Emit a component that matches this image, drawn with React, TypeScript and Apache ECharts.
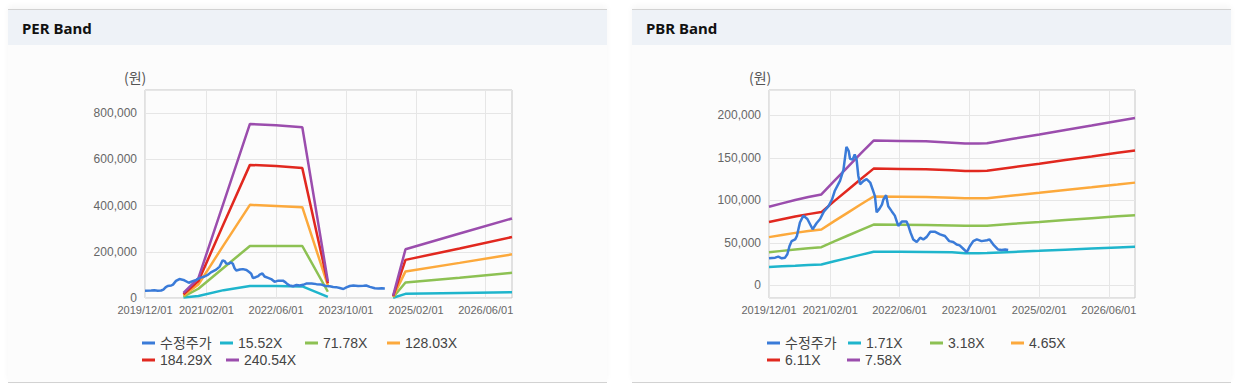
import React, { useEffect, useRef } from "react";
import * as echarts from "echarts";

// ---------- data ----------
const axisStart = "2019-12-01";
const axisEnd = "2026-12-01";
const xTickLabels = ["2019-12-01", "2021-02-01", "2022-06-01", "2023-10-01", "2025-02-01", "2026-06-01"];

const priceName = "수정주가";
const priceDates = [
  "2019-12-01", "2020-01-13", "2020-02-04", "2020-02-28", "2020-03-22", "2020-04-07", "2020-04-22", "2020-05-07",
  "2020-06-01", "2020-06-13", "2020-07-04", "2020-07-28", "2020-08-25", "2020-10-01", "2020-10-28", "2020-11-22",
  "2020-12-19", "2021-01-19", "2021-02-13", "2021-03-04", "2021-04-10", "2021-05-04", "2021-05-25", "2021-06-10",
  "2021-06-19", "2021-07-07", "2021-07-22", "2021-08-04", "2021-08-16", "2021-08-28", "2021-09-22", "2021-10-13",
  "2021-11-07", "2021-11-28", "2021-12-10", "2021-12-22", "2022-01-10", "2022-01-28", "2022-02-07", "2022-02-26",
  "2022-03-13", "2022-04-07", "2022-04-28", "2022-05-22", "2022-06-16", "2022-07-19", "2022-08-01", "2022-08-16",
  "2022-09-04", "2022-09-28", "2022-10-22", "2022-11-13", "2022-12-07", "2023-01-01", "2023-02-04", "2023-03-10",
  "2023-04-13", "2023-05-13", "2023-06-10", "2023-07-04", "2023-07-25", "2023-08-19", "2023-09-13", "2023-10-04",
  "2023-10-28", "2023-11-22", "2023-12-25", "2024-02-01", "2024-02-19", "2024-03-16", "2024-04-19", "2024-05-13",
  "2024-06-07", "2024-06-28",
];
const priceValues = [
  31800, 32500, 33700, 31800, 32500, 36500, 46000, 52000,
  54000, 58000, 74000, 82000, 78000, 66000, 73000, 78000,
  87000, 93000, 101000, 111000, 123000, 136000, 163000, 158000,
  149000, 148000, 154000, 148000, 129000, 119000, 123000, 125000,
  121000, 111000, 105000, 86000, 90000, 95000, 101000, 106000,
  93000, 87000, 82000, 70000, 75000, 75000, 70000, 62000,
  54000, 51000, 56000, 54000, 57000, 63000, 63000, 60000,
  58000, 52000, 51000, 48000, 47000, 43000, 39000, 46000,
  52000, 54000, 52000, 53000, 54000, 48000, 42000, 41500,
  42000, 41500,
];

// PER band
const perNames = ["15.52X", "71.78X", "128.03X", "184.29X", "240.54X"];
const perDates = [
  "2020-08-25", "2020-12-07", "2021-06-01", "2021-12-01", "2022-06-01", "2022-12-01",
  "2023-05-28", "2024-01-01", "2024-08-25", "2024-11-19", "2025-12-01", "2026-12-01",
];
const per1552 = [2000, 9000, 34000, 52000, 52000, 50000, 5000, null, 1000, 18000, 22000, 25000];
const per7178 = [6000, 40000, 131000, 225000, 225000, 225000, 27000, null, 3000, 67000, 88000, 109000];
const per12803 = [11000, 58000, 229000, 403000, 398000, 393000, 55000, null, 6000, 115000, 152000, 189000];
const per18429 = [16000, 73000, 321000, 576000, 571000, 562000, 64000, null, 8000, 165000, 214000, 264000];
const per24054 = [22000, 86000, 413000, 753000, 748000, 739000, 72000, null, 10000, 211000, 279000, 344000];
const perYTicks = [0, 200000, 400000, 600000, 800000];

// PBR band
const pbrNames = ["1.71X", "3.18X", "4.65X", "6.11X", "7.58X"];
const pbrDates = [
  "2019-12-01", "2020-03-01", "2020-06-01", "2020-09-01", "2020-12-01", "2021-03-01", "2021-06-01",
  "2021-09-01", "2021-12-01", "2022-06-01", "2022-12-01", "2023-06-01", "2023-09-01", "2023-12-01",
  "2024-02-01", "2024-08-01", "2025-02-01", "2025-08-01", "2026-02-01", "2026-08-01", "2026-12-01",
];
const pbr171 = [21500, 22300, 23000, 23800, 24500, 28200, 32000, 35800, 39500, 39400, 39200, 38800, 37800, 37800, 38000, 39300, 40600, 41900, 43200, 44500, 45300];
const pbr318 = [38800, 40500, 42200, 43600, 44900, 51600, 58300, 65000, 71500, 71300, 71100, 70500, 70100, 70100, 70200, 72400, 74500, 76800, 79000, 81200, 82600];
const pbr465 = [56700, 59200, 61700, 63800, 65600, 75500, 85300, 95100, 104600, 104300, 104000, 103100, 102500, 102500, 102600, 105800, 109000, 112300, 115500, 118700, 120900];
const pbr611 = [74600, 77800, 81000, 83800, 86200, 99100, 112000, 124900, 137400, 137000, 136600, 135400, 134600, 134600, 134800, 139000, 143200, 147500, 151700, 156000, 158800];
const pbr758 = [92500, 96500, 100500, 104000, 107000, 123000, 139000, 155000, 170500, 170000, 169500, 168000, 167000, 167000, 167300, 172500, 177700, 183000, 188200, 193500, 197000];

const bandColors = ["#1fb5cc", "#8dc153", "#fca93c", "#e1281f", "#9b4dad"];
const priceColor = "#3a7bd8";

// ---------- helpers ----------
const ts = (s: string) => {
  const [y, m, d] = s.split("-").map(Number);
  return new Date(y, m - 1, d).getTime();
};
const fmtDate = (v: number) => {
  const d = new Date(v);
  const mm = String(d.getMonth() + 1).padStart(2, "0");
  const dd = String(d.getDate()).padStart(2, "0");
  return `${d.getFullYear()}/${mm}/${dd}`;
};
const pairs = (dates: string[], vals: (number | null)[]) => dates.map((d, i) => [ts(d), vals[i]]);

const FONT = "'Liberation Sans', Arial, 'Noto Sans CJK KR', sans-serif";

export default function App() {
  const ref = useRef<HTMLDivElement>(null);

  useEffect(() => {
    if (!ref.current) return;
    const chart = echarts.init(ref.current, undefined, { renderer: "svg" });
    const tickTs = xTickLabels.map(ts);

    // linear date axis (values are timestamps)
    const xAxis = (gridIndex: number) => ({
      type: "value",
      gridIndex,
      min: ts(axisStart),
      max: ts(axisEnd),
      axisLine: { show: false },
      axisTick: { show: false, customValues: tickTs },
      axisLabel: {
        customValues: tickTs,
        formatter: (v: number) => fmtDate(v),
        color: "#666",
        fontSize: 11,
        lineHeight: 11,
        fontFamily: FONT,
        margin: 6,
        showMinLabel: true,
        showMaxLabel: true,
        hideOverlap: false,
      },
      splitLine: { show: true, lineStyle: { color: "#e6e6e6", width: 1 } },
    });

    const lineSeries = (name: string, data: any[], color: string, idx: number, z = 2) => ({
      name,
      type: "line",
      xAxisIndex: idx,
      yAxisIndex: idx,
      data,
      symbol: "none",
      showSymbol: false,
      connectNulls: false,
      color,
      z,
      lineStyle: { width: 2.5, color },
    });

    const perBands = [per1552, per7178, per12803, per18429, per24054];
    const pbrBands = [pbr171, pbr318, pbr465, pbr611, pbr758];
    const priceData = pairs(priceDates, priceValues);

    const series: any[] = [];
    perBands.forEach((vals, i) => series.push(lineSeries(perNames[i], pairs(perDates, vals), bandColors[i], 0)));
    series.push(lineSeries(priceName, priceData, priceColor, 0, 3));
    pbrBands.forEach((vals, i) => series.push(lineSeries(pbrNames[i], pairs(pbrDates, vals), bandColors[i], 1)));
    series.push(lineSeries(priceName, priceData, priceColor, 1, 3));

    const legendItem = (name: string, left: number, top: number) => ({
      data: [name],
      left,
      top,
      icon: "rect",
      itemWidth: 13,
      itemHeight: 3,
      itemGap: 0,
      padding: 0,
      selectedMode: false,
      textStyle: { fontSize: 14, color: "#444", fontFamily: FONT },
    });

    const r1 = 336;
    const r2 = 353;
    const legends = [
      legendItem(priceName, 142, r1),
      legendItem(perNames[0], 220, r1),
      legendItem(perNames[1], 305, r1),
      legendItem(perNames[2], 387, r1),
      legendItem(perNames[3], 142, r2),
      legendItem(perNames[4], 226, r2),
      legendItem(priceName, 767, r1),
      legendItem(pbrNames[0], 848, r1),
      legendItem(pbrNames[1], 930, r1),
      legendItem(pbrNames[2], 1011, r1),
      legendItem(pbrNames[3], 767, r2),
      legendItem(pbrNames[4], 847, r2),
    ];

    const yLabel = {
      color: "#666",
      fontSize: 12,
      lineHeight: 12,
      fontFamily: FONT,
      margin: 8,
      formatter: (v: number) => v.toLocaleString("en-US"),
    };

    chart.setOption({
      animation: false,
      title: [
        { text: "PER Band", left: 22, top: 20, padding: 0, textStyle: { fontSize: 15, fontWeight: "bold", color: "#111", fontFamily: "'Noto Sans', sans-serif" } },
        { text: "PBR Band", left: 646, top: 20, padding: 0, textStyle: { fontSize: 15, fontWeight: "bold", color: "#111", fontFamily: "'Noto Sans', sans-serif" } },
      ],
      legend: legends,
      grid: [
        { left: 145, top: 90, width: 367, height: 208, show: true, borderColor: "#c6c6c6", borderWidth: 1, containLabel: false },
        { left: 769, top: 90, width: 366, height: 208, show: true, borderColor: "#c6c6c6", borderWidth: 1, containLabel: false },
      ],
      xAxis: [xAxis(0), xAxis(1)],
      yAxis: [
        {
          type: "value",
          gridIndex: 0,
          min: perYTicks[0],
          max: 900000,
          interval: perYTicks[1] - perYTicks[0],
          axisLine: { show: false },
          axisTick: { show: false },
          axisLabel: { ...yLabel, showMaxLabel: false },
          splitLine: { show: true, lineStyle: { color: "#e6e6e6" } },
        },
        {
          type: "value",
          gridIndex: 1,
          min: -15000,
          max: 230000,
          splitNumber: 5,
          axisLine: { show: false },
          axisTick: { show: false },
          axisLabel: { ...yLabel, showMaxLabel: false, showMinLabel: false },
          splitLine: { show: true, lineStyle: { color: "#e6e6e6" } },
        },
      ],
      graphic: [
        { type: "text", left: 124, top: 70, style: { text: "(원)", fontSize: 14, fill: "#555", fontFamily: "'Noto Sans CJK KR', sans-serif" } },
        { type: "text", left: 749, top: 70, style: { text: "(원)", fontSize: 14, fill: "#555", fontFamily: "'Noto Sans CJK KR', sans-serif" } },
      ],
      series,
    });

    return () => chart.dispose();
  }, []);

  const panel = (left: number, width: number): React.CSSProperties => ({
    position: "absolute",
    left,
    top: 9,
    width,
    height: 374,
    background: "#fcfcfc",
    borderTop: "1px solid #d2d2d2",
    borderBottom: "1px solid #d2d2d2",
    boxSizing: "border-box",
    boxShadow: "0 -3px 6px rgba(0,0,0,0.04)",
  });
  const header: React.CSSProperties = { position: "absolute", left: 0, top: 0, right: 0, height: 35, background: "#eef2f7" };

  return (
    <div style={{ position: "absolute", left: 0, top: 0, width: 1249, height: 389, background: "#fff", overflow: "hidden" }}>
      <div style={panel(8, 599)}>
        <div style={header} />
      </div>
      <div style={panel(632, 599)}>
        <div style={header} />
      </div>
      <div ref={ref} style={{ position: "absolute", left: 0, top: 0, width: 1249, height: 389 }} />
    </div>
  );
}
